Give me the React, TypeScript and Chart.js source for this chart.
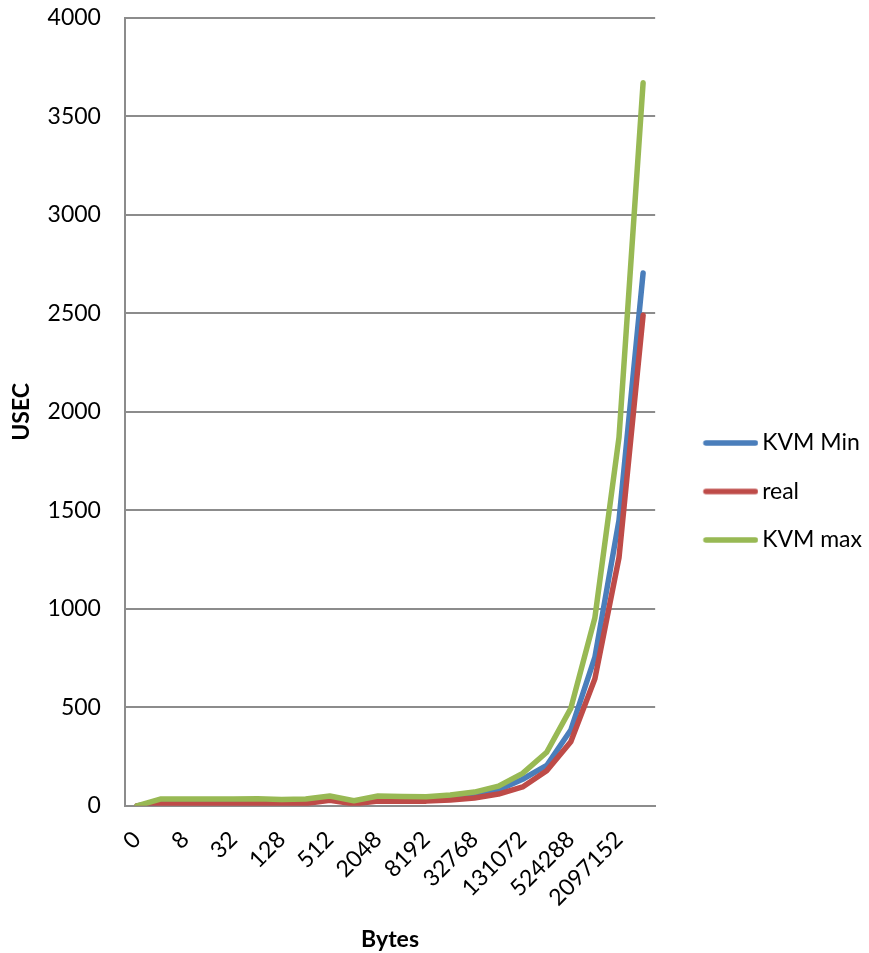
import React, { useEffect, useRef } from "react";
import { Chart, registerables } from "chart.js";

Chart.register(...registerables);

const categories = [
  "0", "4", "8", "16", "32", "64", "128", "256", "512", "1024", "2048",
  "4096", "8192", "16384", "32768", "65536", "131072", "262144", "524288",
  "1048576", "2097152", "4194304",
];

const kvmMin = [0, 20, 20, 20, 20, 22, 20, 22, 38, 18, 35, 35, 34, 40, 52, 80, 135, 205, 385, 755, 1450, 2705];
const real = [0, 10, 10, 10, 10, 11, 10, 12, 28, 10, 24, 24, 24, 30, 40, 60, 96, 178, 325, 645, 1260, 2490];
const kvmMax = [0, 35, 35, 35, 35, 36, 32, 35, 50, 26, 50, 48, 46, 55, 70, 100, 165, 272, 495, 955, 1870, 3670];

const yTicks = [0, 500, 1000, 1500, 2000, 2500, 3000, 3500, 4000];

const seriesNames = ["KVM Min", "real", "KVM max"];
const seriesColors = ["#4a7ebb", "#be4b48", "#98b954"];

const FONT = "Lato, 'Liberation Sans', sans-serif";
const FS = 23;
const LINE_W = 5.5;

// legend swatch: a line 55px long that begins at the item's left edge,
// while the legend reserves a narrower box so the text sits close to it
const SWATCH_BOX = 47.5;
const SWATCH_LEN = 55;

function makeSwatch(color: string): HTMLCanvasElement {
  const half = SWATCH_LEN - SWATCH_BOX / 2;
  const w = Math.ceil(half * 2);
  const h = 10;
  const c = document.createElement("canvas");
  c.width = w;
  c.height = h;
  const ctx = c.getContext("2d")!;
  const start = w / 2 - SWATCH_BOX / 2;
  ctx.strokeStyle = color;
  ctx.lineWidth = LINE_W;
  ctx.lineCap = "round";
  ctx.beginPath();
  ctx.moveTo(start + LINE_W / 2, h / 2);
  ctx.lineTo(start + SWATCH_LEN - LINE_W / 2, h / 2);
  ctx.stroke();
  return c;
}

export default function App() {
  const ref = useRef<HTMLCanvasElement | null>(null);

  useEffect(() => {
    document.body.style.margin = "0";
    const canvas = ref.current;
    if (!canvas) return;
    const swatches = seriesColors.map(makeSwatch);
    const values = [kvmMin, real, kvmMax];
    const drawOrder = [2, 1, 0];
    const chart = new Chart(canvas, {
      type: "line",
      data: {
        labels: categories,
        datasets: seriesNames.map((name, i) => ({
          label: name,
          data: values[i],
          borderColor: seriesColors[i],
          backgroundColor: seriesColors[i],
          borderWidth: LINE_W,
          pointRadius: 0,
          borderCapStyle: "round",
          borderJoinStyle: "round",
          order: drawOrder[i],
        })),
      },
      options: {
        animation: false,
        responsive: false,
        maintainAspectRatio: false,
        layout: { padding: { top: 4, right: -3, bottom: 0, left: 8 } },
        plugins: {
          tooltip: { enabled: false },
          legend: {
            position: "right",
            maxWidth: 260,
            title: { display: true, text: " ", font: { size: 10 }, padding: 7 },
            labels: {
              sort: (a: any, b: any) => a.datasetIndex - b.datasetIndex,
              usePointStyle: true,
              pointStyleWidth: SWATCH_BOX,
              boxHeight: 5,
              padding: 25.5,
              color: "#000",
              font: { family: FONT, size: FS },
              generateLabels: (ch: any) =>
                (Chart.defaults.plugins.legend.labels.generateLabels as any)(ch).map((it: any) => ({
                  ...it,
                  pointStyle: swatches[it.datasetIndex],
                })),
            },
          },
        },
        scales: {
          x: {
            offset: true,
            grid: {
              display: true,
              drawOnChartArea: false,
              drawTicks: true,
              tickLength: 8,
              color: "rgba(0,0,0,0)",
              tickColor: "rgba(0,0,0,0)",
            },
            border: { display: true, color: "#8c8c8c", width: 2 },
            ticks: {
              autoSkip: false,
              maxRotation: 45,
              minRotation: 45,
              padding: 12,
              color: "#000",
              font: { family: FONT, size: FS },
              callback: (_v: any, i: number) => (i % 2 === 0 ? categories[i] : ""),
            },
            title: {
              display: true,
              text: "Bytes",
              color: "#000",
              font: { family: FONT, size: FS, weight: "bold" },
              padding: { top: 2, bottom: 0 },
            },
          },
          y: {
            min: 0,
            max: 4000,
            afterBuildTicks: (axis: any) => {
              axis.ticks = yTicks.map((v) => ({ value: v }));
            },
            grid: {
              color: "#8c8c8c",
              lineWidth: 2,
              drawTicks: true,
              tickLength: 20,
              tickColor: "rgba(0,0,0,0)",
            },
            border: { display: true, color: "#8c8c8c", width: 2 },
            ticks: {
              padding: 4,
              color: "#000",
              font: { family: FONT, size: FS },
              callback: (v: any) => String(v),
            },
            title: {
              display: true,
              text: "USEC",
              color: "#000",
              font: { family: FONT, size: FS, weight: "bold" },
              padding: { top: 0, bottom: 8 },
            },
          },
          gap: {
            type: "linear",
            position: "right",
            display: true,
            grid: { display: false, drawTicks: false },
            border: { display: false },
            ticks: { display: false },
            afterFit: (s: any) => {
              s.width = 22.5;
            },
          },
        },
      },
    });
    return () => chart.destroy();
  }, []);

  return <canvas ref={ref} width={869} height={953} style={{ display: "block" }} />;
}
